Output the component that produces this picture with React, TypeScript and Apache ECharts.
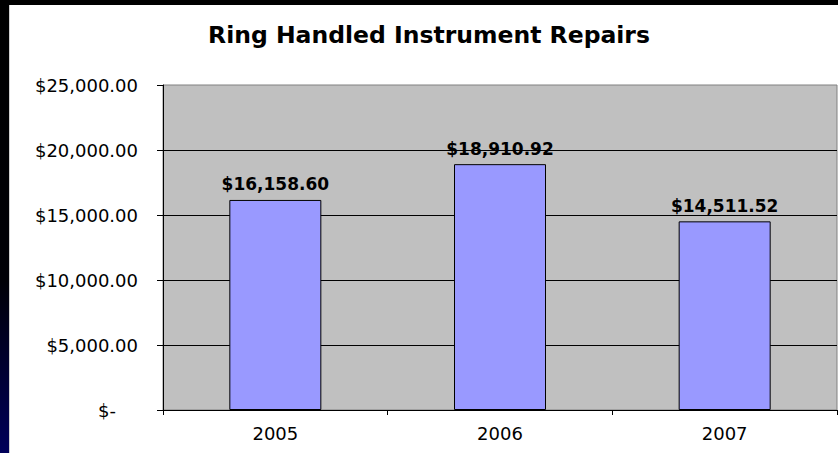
import React, { useEffect, useRef } from "react";
import * as echarts from "echarts";

const titleText = "Ring Handled Instrument Repairs";
const categories = ["2005", "2006", "2007"];
const repairCosts = [16158.6, 18910.92, 14511.52];
const yMin = 0;
const yMax = 25000;
const yStep = 5000;

function money(v: number): string {
  if (v === 0) return "$-";
  const fixed = v.toFixed(2);
  const [intPart, dec] = fixed.split(".");
  const withCommas = intPart.replace(/\B(?=(\d{3})+(?!\d))/g, ",");
  return "$" + withCommas + "." + dec;
}

export default function App() {
  const ref = useRef<HTMLDivElement>(null);
  useEffect(() => {
    if (!ref.current) return;
    const chart = echarts.init(ref.current, undefined, { renderer: "svg" });
    const font = "DejaVu Sans";
    chart.setOption({
      animation: false,
      backgroundColor: "#ffffff",
      graphic: [
        {
          type: "rect",
          shape: { x: 0, y: 0, width: 9, height: 453 },
          style: {
            fill: new echarts.graphic.LinearGradient(0, 0, 0, 1, [
              { offset: 0, color: "#000000" },
              { offset: 0.62, color: "#000006" },
              { offset: 1, color: "#00005a" },
            ]),
          },
          z: 100,
        },
        {
          type: "rect",
          shape: { x: 0, y: 0, width: 838, height: 5 },
          style: { fill: "#000000" },
          z: 100,
        },
        {
          type: "line",
          shape: { x1: 9.5, y1: 5, x2: 9.5, y2: 453 },
          style: { stroke: "#d0d0d0", lineWidth: 1 },
          z: 100,
        },
        {
          type: "text",
          x: 429,
          y: 35,
          style: {
            text: titleText,
            fontFamily: font,
            fontWeight: "bold",
            fontSize: 23.5,
            fill: "#000000",
            textAlign: "center",
            textVerticalAlign: "middle",
          },
        },
      ],
      grid: {
        left: 163,
        right: 1,
        top: 85,
        bottom: 43,
        show: true,
        backgroundColor: "#C0C0C0",
        borderColor: "#808080",
        borderWidth: 1,
      },
      xAxis: {
        type: "category",
        data: categories,
        axisLine: { show: true, lineStyle: { color: "#000000", width: 1 } },
        axisTick: { show: true, alignWithLabel: false, length: 5, lineStyle: { color: "#000000" } },
        axisLabel: {
          fontFamily: font,
          fontSize: 18,
          color: "#000000",
          margin: 14,
        },
      },
      yAxis: {
        type: "value",
        min: yMin,
        max: yMax,
        interval: yStep,
        axisLine: { show: true, lineStyle: { color: "#000000", width: 1 } },
        axisTick: { show: true, length: 6, lineStyle: { color: "#000000" } },
        splitLine: {
          show: true,
          showMaxLine: false,
          lineStyle: { color: "#000000", width: 1 },
        },
        axisLabel: {
          fontFamily: font,
          fontSize: 18,
          color: "#000000",
          margin: 25,
          formatter: (v: number) => (v === 0 ? "{z|$-}" : money(v)),
          rich: {
            z: { fontFamily: font, fontSize: 18, color: "#000000", padding: [0, 22, 0, 0] },
          },
        },
      },
      series: [
        {
          type: "bar",
          data: repairCosts,
          barWidth: 92,
          itemStyle: { color: "#9999FF", borderColor: "#000000", borderWidth: 1 },
          label: {
            show: true,
            position: "top",
            distance: 7,
            fontFamily: font,
            fontWeight: "bold",
            fontSize: 17,
            color: "#000000",
            formatter: (p: any) => money(p.value),
          },
        },
      ],
    });
    return () => chart.dispose();
  }, []);
  return (
    <div
      ref={ref}
      style={{ position: "fixed", left: 0, top: 0, width: 838, height: 453 }}
    />
  );
}
